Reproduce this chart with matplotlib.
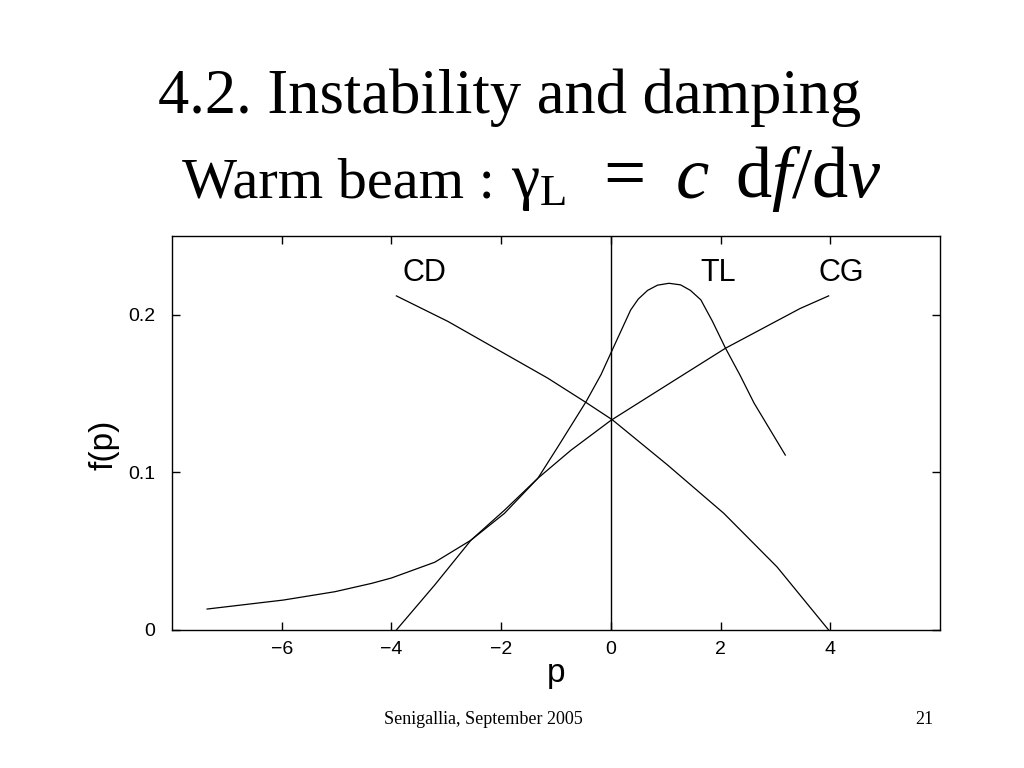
import matplotlib
matplotlib.use("Agg")
import matplotlib.pyplot as plt

# ---- data ----
cg_p = [-7.36, -5.97, -5.03, -4.36, -4.0, -3.21, -2.55, -1.94, -1.33, -0.73, 0.0, 1.03, 2.09, 3.45, 3.97]
cg_f = [0.0133, 0.019, 0.0243, 0.0296, 0.0330, 0.043, 0.057, 0.076, 0.0963, 0.114, 0.133, 0.1556, 0.1788, 0.204, 0.212]

tl_p = [-3.91, -3.21, -2.55, -1.94, -1.33, -0.97, -0.45, -0.18, 0.03, 0.36, 0.5, 0.67, 0.85, 1.06, 1.27, 1.45, 1.64, 1.85, 2.09, 2.35, 2.61, 3.18]
tl_f = [0.0, 0.0286, 0.057, 0.074, 0.0963, 0.116, 0.145, 0.162, 0.178, 0.203, 0.210, 0.2155, 0.2188, 0.220, 0.219, 0.2155, 0.2095, 0.196, 0.1788, 0.162, 0.144, 0.111]

cd_p = [-3.91, -2.97, -2.06, -1.15, -0.45, 0.03, 1.03, 2.06, 3.03, 3.97]
cd_f = [0.212, 0.1958, 0.1778, 0.1598, 0.1443, 0.1333, 0.1048, 0.074, 0.040, 0.0]

curve_labels = ["CD", "TL", "CG"]
label_p = [-3.4, 1.95, 4.2]
label_f = [0.2267, 0.2267, 0.2267]

x_ticks = [-6, -4, -2, 0, 2, 4]
x_tick_labels = ["\u22126", "\u22124", "\u22122", "0", "2", "4"]
y_ticks = [0, 0.1, 0.2]
y_tick_labels = ["0", "0.1", "0.2"]

title1 = "4.2. Instability and damping"
title2_parts = ["Warm beam :", "\u03b3$_{\\rm L}$", "=", "$c$", "d$f$/d$v$"]
footer = "Senigallia, September 2005"
page = "21"

# ---- figure ----
plt.rcParams['font.family'] = ['Liberation Sans', 'DejaVu Sans']
plt.rcParams['mathtext.fontset'] = 'custom'
plt.rcParams['mathtext.rm'] = 'Liberation Serif'
plt.rcParams['mathtext.it'] = 'Liberation Serif:italic'

W, H = 1024, 768
fig = plt.figure(figsize=(W / 100, H / 100), dpi=100)
fig.patch.set_facecolor('white')

ax = fig.add_axes([172 / W, 1 - 630 / H, (940 - 172) / W, (630 - 236) / H])
lw = 0.9
ax.plot(cg_p, cg_f, color='black', lw=lw)
ax.plot(tl_p, tl_f, color='black', lw=lw)
ax.plot(cd_p, cd_f, color='black', lw=lw)
ax.axvline(0, color='black', lw=1.0)

for t, px, fy in zip(curve_labels, label_p, label_f):
    ax.text(px, fy, t, ha='center', va='center', fontsize=22)

ax.set_xlim(-8, 6)
ax.set_ylim(0, 0.25)
ax.set_xticks(x_ticks)
ax.set_xticklabels(x_tick_labels)
ax.set_yticks(y_ticks)
ax.set_yticklabels(y_tick_labels)
ax.tick_params(direction='in', length=6, width=1, top=True, right=True,
               labelsize=14)
ax.tick_params(axis='x', pad=8)
ax.tick_params(axis='y', pad=12)
for s in ax.spines.values():
    s.set_linewidth(1.0)

ax.set_xlabel('p', fontsize=24)
ax.xaxis.set_label_coords(0.5, -0.07)
ax.set_ylabel('f(p)', fontsize=24)
ax.yaxis.set_label_coords(-0.069, 0.47)

# ---- slide texts ----
serif = ['Liberation Serif', 'DejaVu Serif']
fig.text(510 / W, 1 - 113 / H, title1, ha='center', va='baseline',
         fontsize=45, family=serif)
part_x = [182, 511, 603, 675, 735]
part_size = [42, 46, 54, 54, 52]
for t, px, fs in zip(title2_parts, part_x, part_size):
    fig.text(px / W, 1 - 197 / H, t, ha='left', va='baseline',
             fontsize=fs, family=serif)
fig.text(483 / W, 1 - 724 / H, footer, ha='center', va='baseline',
         fontsize=13, family=serif)
fig.text(933 / W, 1 - 724 / H, page, ha='right', va='baseline',
         fontsize=13, family=serif)

fig.savefig('out.png', dpi=100, facecolor='white')
